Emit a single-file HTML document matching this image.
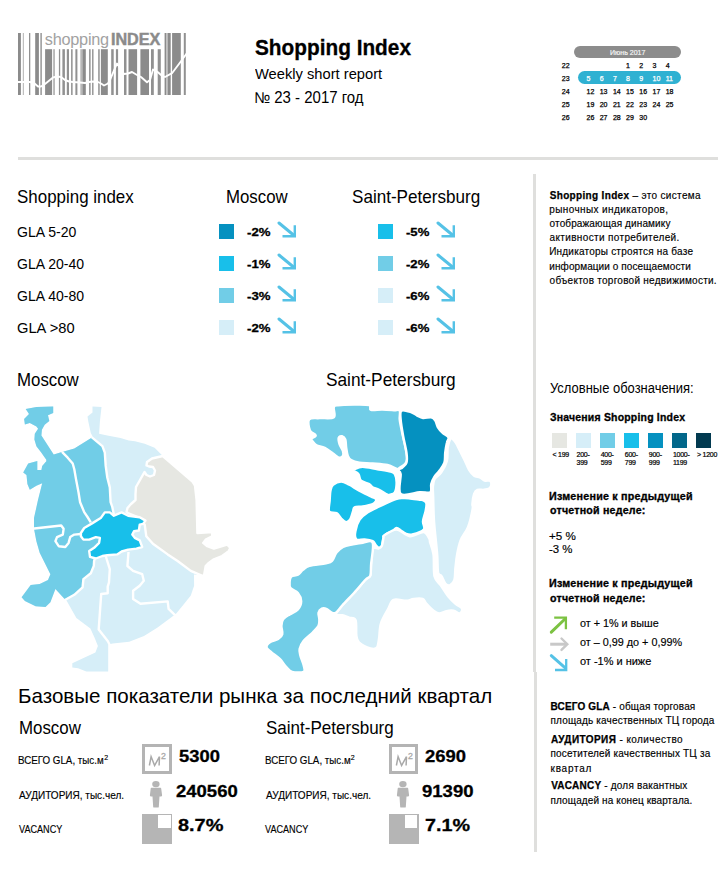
<!DOCTYPE html>
<html><head><meta charset="utf-8"><title>Shopping Index</title>
<style>
html,body{margin:0;padding:0;background:#fff;}
body{width:728px;height:881px;position:relative;overflow:hidden;font-family:"Liberation Sans",sans-serif;color:#000;}
.abs{position:absolute;}
.t{position:absolute;white-space:nowrap;line-height:1;}
.t b{-webkit-text-stroke:0.25px #000;}
.t sup{font-size:65%;vertical-align:0.45em;line-height:0;}
svg{display:block;}
</style></head><body>
<svg class="abs" style="left:0;top:0" width="200" height="100" viewBox="0 0 200 100">
<rect x="18.0" y="33" width="2.90" height="62" fill="#8b8b8b"/>
<rect x="22.8" y="33" width="1.10" height="62" fill="#b8b8b8"/>
<rect x="29.0" y="33" width="1.30" height="62" fill="#919191"/>
<rect x="35.2" y="33" width="3.70" height="62" fill="#8b8b8b"/>
<rect x="40.4" y="33" width="1.40" height="62" fill="#919191"/>
<rect x="164.6" y="33" width="1.60" height="62" fill="#8b8b8b"/>
<rect x="166.2" y="33" width="1.60" height="62" fill="#b8b8b8"/>
<rect x="167.8" y="33" width="2.90" height="62" fill="#8b8b8b"/>
<rect x="172.1" y="33" width="8.70" height="62" fill="#8b8b8b"/>
<rect x="183.8" y="33" width="2.00" height="62" fill="#919191"/>
<rect x="45.1" y="49.2" width="7.00" height="45.8" fill="#8b8b8b"/>
<rect x="53.1" y="49.2" width="1.90" height="45.8" fill="#b8b8b8"/>
<rect x="58.9" y="49.2" width="1.30" height="45.8" fill="#919191"/>
<rect x="62.4" y="49.2" width="2.50" height="45.8" fill="#919191"/>
<rect x="66.8" y="49.2" width="2.20" height="45.8" fill="#919191"/>
<rect x="71.1" y="49.2" width="1.50" height="45.8" fill="#919191"/>
<rect x="75.4" y="49.2" width="2.00" height="45.8" fill="#919191"/>
<rect x="80.3" y="49.2" width="2.10" height="45.8" fill="#b8b8b8"/>
<rect x="82.4" y="49.2" width="3.40" height="45.8" fill="#8b8b8b"/>
<rect x="89.1" y="49.2" width="1.50" height="45.8" fill="#919191"/>
<rect x="92.1" y="49.2" width="1.40" height="45.8" fill="#919191"/>
<rect x="98.2" y="49.2" width="1.50" height="45.8" fill="#919191"/>
<rect x="100.9" y="49.2" width="6.90" height="45.8" fill="#8b8b8b"/>
<rect x="111.2" y="49.2" width="2.50" height="45.8" fill="#919191"/>
<rect x="115.9" y="49.2" width="2.20" height="45.8" fill="#919191"/>
<rect x="124.0" y="49.2" width="2.50" height="45.8" fill="#919191"/>
<rect x="128.5" y="49.2" width="8.60" height="45.8" fill="#8b8b8b"/>
<rect x="140.4" y="49.2" width="8.60" height="45.8" fill="#8b8b8b"/>
<rect x="151.0" y="49.2" width="2.80" height="45.8" fill="#919191"/>
<rect x="157.7" y="49.2" width="3.10" height="45.8" fill="#919191"/>
<polyline points="17,82 30,82 34,83 38,86.5 41,86.5 45,84 53,77.5 57,76.5 61,77 65,80 69,81.5 73,82 80,82.5 85,83 89,82 93,81.5 98,82 101,83.5 104,85.5 108,83.5 110,80 113.7,71.2 117,63.5 120,68 124,74 128,73.5 132,72 137,75 141,77 147,82.3 150,80 153,69.5 156,71 158,72.2 161,75 165,77 172,73.2 181,61.2 187,53" fill="none" stroke="#fff" stroke-width="1.9" stroke-linejoin="round"/>
<text x="44.8" y="45.3" font-size="16.3" fill="#a2a2a2" font-family="Liberation Sans" letter-spacing="-0.25" style="opacity:0.999">shopping</text>
<text x="110.9" y="45.1" font-size="16.2" font-weight="bold" fill="#8b8b8b" stroke="#8b8b8b" stroke-width="0.45" font-family="Liberation Sans" style="opacity:0.999">INDEX</text>
</svg>
<div class="t" style="left:254.68px;top:38.00px;font-size:21.4px;font-weight:bold;-webkit-text-stroke:0.3px #000;transform:scaleX(0.9721);transform-origin:0 0;">Shopping Index</div>
<div class="t" style="left:254.93px;top:66.00px;font-size:15.3px;transform:scaleX(0.9607);transform-origin:0 0;">Weekly short report</div>
<div class="t" style="left:253.65px;top:90.00px;font-size:15.6px;transform:scaleX(0.9609);transform-origin:0 0;">№ 23 - 2017 год</div>
<div class="abs" style="left:574px;top:45.5px;width:107px;height:12.5px;border-radius:6.25px;background:#8c8c8c"></div>
<div class="t" style="left:610.00px;top:49.00px;font-size:7px;color:#f4f4f4;-webkit-text-stroke:0.2px #f4f4f4;">Июнь 2017</div>
<div class="abs" style="left:578px;top:71px;width:103px;height:13.3px;border-radius:6.5px;background:#2fb1d2"></div>
<div class="t" style="left:561.80px;top:62.00px;font-size:7px;color:#000;-webkit-text-stroke:0.25px #000;">22</div>
<div class="t" style="left:626.10px;top:62.00px;font-size:7px;color:#000;-webkit-text-stroke:0.25px #000;">1</div>
<div class="t" style="left:639.30px;top:62.00px;font-size:7px;color:#000;-webkit-text-stroke:0.25px #000;">2</div>
<div class="t" style="left:652.50px;top:62.00px;font-size:7px;color:#000;-webkit-text-stroke:0.25px #000;">3</div>
<div class="t" style="left:665.70px;top:62.00px;font-size:7px;color:#000;-webkit-text-stroke:0.25px #000;">4</div>
<div class="t" style="left:561.80px;top:75.00px;font-size:7px;color:#000;-webkit-text-stroke:0.25px #000;">23</div>
<div class="t" style="left:586.50px;top:75.00px;font-size:7px;color:#ffffff;-webkit-text-stroke:0.25px #fff;">5</div>
<div class="t" style="left:599.70px;top:75.00px;font-size:7px;color:#ffffff;-webkit-text-stroke:0.25px #fff;">6</div>
<div class="t" style="left:612.90px;top:75.00px;font-size:7px;color:#ffffff;-webkit-text-stroke:0.25px #fff;">7</div>
<div class="t" style="left:626.10px;top:75.00px;font-size:7px;color:#ffffff;-webkit-text-stroke:0.25px #fff;">8</div>
<div class="t" style="left:639.30px;top:75.00px;font-size:7px;color:#ffffff;-webkit-text-stroke:0.25px #fff;">9</div>
<div class="t" style="left:652.50px;top:75.00px;font-size:7px;color:#ffffff;-webkit-text-stroke:0.25px #fff;">10</div>
<div class="t" style="left:665.70px;top:75.00px;font-size:7px;color:#ffffff;-webkit-text-stroke:0.25px #fff;">11</div>
<div class="t" style="left:561.80px;top:88.00px;font-size:7px;color:#000;-webkit-text-stroke:0.25px #000;">24</div>
<div class="t" style="left:586.50px;top:88.00px;font-size:7px;color:#000;-webkit-text-stroke:0.25px #000;">12</div>
<div class="t" style="left:599.70px;top:88.00px;font-size:7px;color:#000;-webkit-text-stroke:0.25px #000;">13</div>
<div class="t" style="left:612.90px;top:88.00px;font-size:7px;color:#000;-webkit-text-stroke:0.25px #000;">14</div>
<div class="t" style="left:626.10px;top:88.00px;font-size:7px;color:#000;-webkit-text-stroke:0.25px #000;">15</div>
<div class="t" style="left:639.30px;top:88.00px;font-size:7px;color:#000;-webkit-text-stroke:0.25px #000;">16</div>
<div class="t" style="left:652.50px;top:88.00px;font-size:7px;color:#000;-webkit-text-stroke:0.25px #000;">17</div>
<div class="t" style="left:665.70px;top:88.00px;font-size:7px;color:#000;-webkit-text-stroke:0.25px #000;">18</div>
<div class="t" style="left:561.80px;top:101.00px;font-size:7px;color:#000;-webkit-text-stroke:0.25px #000;">25</div>
<div class="t" style="left:586.50px;top:101.00px;font-size:7px;color:#000;-webkit-text-stroke:0.25px #000;">19</div>
<div class="t" style="left:599.70px;top:101.00px;font-size:7px;color:#000;-webkit-text-stroke:0.25px #000;">20</div>
<div class="t" style="left:612.90px;top:101.00px;font-size:7px;color:#000;-webkit-text-stroke:0.25px #000;">21</div>
<div class="t" style="left:626.10px;top:101.00px;font-size:7px;color:#000;-webkit-text-stroke:0.25px #000;">22</div>
<div class="t" style="left:639.30px;top:101.00px;font-size:7px;color:#000;-webkit-text-stroke:0.25px #000;">23</div>
<div class="t" style="left:652.50px;top:101.00px;font-size:7px;color:#000;-webkit-text-stroke:0.25px #000;">24</div>
<div class="t" style="left:665.70px;top:101.00px;font-size:7px;color:#000;-webkit-text-stroke:0.25px #000;">25</div>
<div class="t" style="left:561.80px;top:114.00px;font-size:7px;color:#000;-webkit-text-stroke:0.25px #000;">26</div>
<div class="t" style="left:586.50px;top:114.00px;font-size:7px;color:#000;-webkit-text-stroke:0.25px #000;">26</div>
<div class="t" style="left:599.70px;top:114.00px;font-size:7px;color:#000;-webkit-text-stroke:0.25px #000;">27</div>
<div class="t" style="left:612.90px;top:114.00px;font-size:7px;color:#000;-webkit-text-stroke:0.25px #000;">28</div>
<div class="t" style="left:626.10px;top:114.00px;font-size:7px;color:#000;-webkit-text-stroke:0.25px #000;">29</div>
<div class="t" style="left:639.30px;top:114.00px;font-size:7px;color:#000;-webkit-text-stroke:0.25px #000;">30</div>
<div class="abs" style="left:18px;top:157px;width:700px;height:3px;background:#dfdfdd"></div>
<div class="abs" style="left:533px;top:174px;width:3px;height:498px;background:#dfdfdd"></div>
<div class="abs" style="left:534px;top:672px;width:3px;height:180px;background:#dfdfdd"></div>
<div class="t" style="left:17.34px;top:189.00px;font-size:17.7px;transform:scaleX(0.9573);transform-origin:0 0;">Shopping index</div>
<div class="t" style="left:225.85px;top:189.00px;font-size:17.7px;transform:scaleX(0.9505);transform-origin:0 0;">Moscow</div>
<div class="t" style="left:351.53px;top:189.00px;font-size:17.7px;transform:scaleX(0.9657);transform-origin:0 0;">Saint-Petersburg</div>
<div class="t" style="left:17.40px;top:225.00px;font-size:14.5px;transform:scaleX(0.9695);transform-origin:0 0;">GLA 5-20</div>
<div class="abs" style="left:219px;top:224px;width:15px;height:15px;background:#0591c0"></div>
<div class="t" style="left:247.47px;top:227.00px;font-size:11.2px;font-weight:bold;-webkit-text-stroke:0.3px #000;transform:scaleX(1.1766);transform-origin:0 0;">-2%</div>
<svg class="abs" style="left:277.3px;top:221px" width="21" height="18" viewBox="0 0 21 18"><line x1="2" y1="2" x2="16.5" y2="14" stroke="#55c2e6" stroke-width="3" stroke-linecap="round"/><polyline points="5.5,15.3 17.8,15.3 17.8,4.2" fill="none" stroke="#55c2e6" stroke-width="2.4"/></svg>
<div class="abs" style="left:378px;top:224px;width:15px;height:15px;background:#18bfea"></div>
<div class="t" style="left:405.98px;top:227.00px;font-size:11.2px;font-weight:bold;-webkit-text-stroke:0.3px #000;transform:scaleX(1.1714);transform-origin:0 0;">-5%</div>
<svg class="abs" style="left:436.3px;top:221px" width="21" height="18" viewBox="0 0 21 18"><line x1="2" y1="2" x2="16.5" y2="14" stroke="#55c2e6" stroke-width="3" stroke-linecap="round"/><polyline points="5.5,15.3 17.8,15.3 17.8,4.2" fill="none" stroke="#55c2e6" stroke-width="2.4"/></svg>
<div class="t" style="left:17.40px;top:257.00px;font-size:14.5px;transform:scaleX(0.9680);transform-origin:0 0;">GLA 20-40</div>
<div class="abs" style="left:219px;top:256px;width:15px;height:15px;background:#18bfea"></div>
<div class="t" style="left:247.47px;top:259.00px;font-size:11.2px;font-weight:bold;-webkit-text-stroke:0.3px #000;transform:scaleX(1.1766);transform-origin:0 0;">-1%</div>
<svg class="abs" style="left:277.3px;top:253px" width="21" height="18" viewBox="0 0 21 18"><line x1="2" y1="2" x2="16.5" y2="14" stroke="#55c2e6" stroke-width="3" stroke-linecap="round"/><polyline points="5.5,15.3 17.8,15.3 17.8,4.2" fill="none" stroke="#55c2e6" stroke-width="2.4"/></svg>
<div class="abs" style="left:378px;top:256px;width:15px;height:15px;background:#71cde7"></div>
<div class="t" style="left:405.98px;top:259.00px;font-size:11.2px;font-weight:bold;-webkit-text-stroke:0.3px #000;transform:scaleX(1.1714);transform-origin:0 0;">-2%</div>
<svg class="abs" style="left:436.3px;top:253px" width="21" height="18" viewBox="0 0 21 18"><line x1="2" y1="2" x2="16.5" y2="14" stroke="#55c2e6" stroke-width="3" stroke-linecap="round"/><polyline points="5.5,15.3 17.8,15.3 17.8,4.2" fill="none" stroke="#55c2e6" stroke-width="2.4"/></svg>
<div class="t" style="left:17.40px;top:289.00px;font-size:14.5px;transform:scaleX(0.9680);transform-origin:0 0;">GLA 40-80</div>
<div class="abs" style="left:219px;top:288px;width:15px;height:15px;background:#71cde7"></div>
<div class="t" style="left:247.47px;top:291.00px;font-size:11.2px;font-weight:bold;-webkit-text-stroke:0.3px #000;transform:scaleX(1.1766);transform-origin:0 0;">-3%</div>
<svg class="abs" style="left:277.3px;top:285px" width="21" height="18" viewBox="0 0 21 18"><line x1="2" y1="2" x2="16.5" y2="14" stroke="#55c2e6" stroke-width="3" stroke-linecap="round"/><polyline points="5.5,15.3 17.8,15.3 17.8,4.2" fill="none" stroke="#55c2e6" stroke-width="2.4"/></svg>
<div class="abs" style="left:378px;top:288px;width:15px;height:15px;background:#d6eef8"></div>
<div class="t" style="left:405.98px;top:291.00px;font-size:11.2px;font-weight:bold;-webkit-text-stroke:0.3px #000;transform:scaleX(1.1714);transform-origin:0 0;">-6%</div>
<svg class="abs" style="left:436.3px;top:285px" width="21" height="18" viewBox="0 0 21 18"><line x1="2" y1="2" x2="16.5" y2="14" stroke="#55c2e6" stroke-width="3" stroke-linecap="round"/><polyline points="5.5,15.3 17.8,15.3 17.8,4.2" fill="none" stroke="#55c2e6" stroke-width="2.4"/></svg>
<div class="t" style="left:17.37px;top:321.00px;font-size:14.5px;transform:scaleX(1.0125);transform-origin:0 0;">GLA &gt;80</div>
<div class="abs" style="left:219px;top:320px;width:15px;height:15px;background:#d6eef8"></div>
<div class="t" style="left:247.47px;top:323.00px;font-size:11.2px;font-weight:bold;-webkit-text-stroke:0.3px #000;transform:scaleX(1.1766);transform-origin:0 0;">-2%</div>
<svg class="abs" style="left:277.3px;top:317px" width="21" height="18" viewBox="0 0 21 18"><line x1="2" y1="2" x2="16.5" y2="14" stroke="#55c2e6" stroke-width="3" stroke-linecap="round"/><polyline points="5.5,15.3 17.8,15.3 17.8,4.2" fill="none" stroke="#55c2e6" stroke-width="2.4"/></svg>
<div class="abs" style="left:378px;top:320px;width:15px;height:15px;background:#d6eef8"></div>
<div class="t" style="left:405.98px;top:323.00px;font-size:11.2px;font-weight:bold;-webkit-text-stroke:0.3px #000;transform:scaleX(1.1714);transform-origin:0 0;">-6%</div>
<svg class="abs" style="left:436.3px;top:317px" width="21" height="18" viewBox="0 0 21 18"><line x1="2" y1="2" x2="16.5" y2="14" stroke="#55c2e6" stroke-width="3" stroke-linecap="round"/><polyline points="5.5,15.3 17.8,15.3 17.8,4.2" fill="none" stroke="#55c2e6" stroke-width="2.4"/></svg>
<div class="t" style="left:17.35px;top:372.00px;font-size:17.7px;transform:scaleX(0.9521);transform-origin:0 0;">Moscow</div>
<div class="t" style="left:326.42px;top:372.00px;font-size:17.7px;transform:scaleX(0.9764);transform-origin:0 0;">Saint-Petersburg</div>
<svg class="abs" style="left:0;top:395px" width="540" height="285" viewBox="0 395 540 285">
<g stroke-linejoin="round">
<polygon points="25.7,409.1 36.4,406.9 53.2,406.6 53.2,412.9 48.0,415.2 49.3,421.1 44.7,424.7 41.9,429.7 41.4,435.4 53.7,454.4 60.3,452.4 74.3,448.6 90.8,438.2 92.5,436.3 90.8,433.0 88.3,421.4 87.5,416.5 92.5,412.4 92.5,406.6 101.5,406.9 99.9,421.4 99.1,433.8 107.3,435.4 120.5,437.9 128.7,440.4 135.0,441.2 144.7,443.7 154.6,447.8 160.3,453.6 162.8,456.0 192.5,481.6 195.0,485.7 196.6,500.0 197.4,533.0 212.2,532.1 212.2,536.3 205.7,539.6 203.2,542.9 207.3,546.2 213.9,548.6 227.1,544.5 230.4,547.8 228.7,551.1 222.1,556.0 213.9,559.3 208.1,563.5 205.7,566.0 204.0,575.8 194.0,574.5 194.1,585.7 190.8,595.6 184.2,603.8 176.0,613.7 170.4,617.9 157.2,627.8 144.0,636.0 129.2,641.8 112.7,643.5 109.4,644.3 109.4,671.5 86.3,671.5 78.1,668.2 72.3,667.4 72.3,663.2 83.0,658.3 95.4,652.5 97.9,645.9 94.6,637.7 90.4,628.6 76.4,617.9 66.5,600.6 65.3,599.7 55.4,589.0 50.4,602.2 45.5,607.1 35.6,606.3 24.9,600.9 21.6,597.2 30.7,584.9 39.7,584.1 48.0,580.0 50.4,574.2 39.7,552.7 36.4,541.2 34.0,528.8 34.0,518.1 38.0,500.0 42.2,483.2 36.4,485.7 29.8,489.8 27.4,484.1 26.5,475.0 23.2,472.5 28.2,463.5 37.3,461.0 37.3,470.0 41.4,470.0 42.2,465.9 46.3,461.3 46.3,459.7 41.4,452.7 36.4,446.2 34.4,439.6 34.8,433.8 38.1,428.8 36.4,426.4 29.8,423.1 24.9,424.4 24.1,419.0 29.0,414.0" fill="#d6eef8"/>
<polygon points="25.7,409.1 36.4,406.9 53.2,406.6 53.2,412.9 48.0,415.2 49.3,421.1 44.7,424.7 41.9,429.7 41.4,435.4 53.7,454.4 60.3,452.4 74.3,448.6 90.8,438.2 92.0,437.5 102.4,446.2 104.8,452.7 105.7,465.9 107.3,477.5 109.8,487.4 110.6,502.2 112.2,506.6 113.9,514.8 110.0,535.0 95.0,560.0 94.1,561.0 93.8,565.9 90.8,573.3 83.4,579.1 82.6,587.4 74.3,594.8 65.3,599.7 55.4,589.0 50.4,602.2 45.5,607.1 35.6,606.3 24.9,600.9 21.6,597.2 30.7,584.9 39.7,584.1 48.0,580.0 50.4,574.2 39.7,552.7 36.4,541.2 34.0,528.8 34.0,518.1 38.0,500.0 42.2,483.2 36.4,485.7 29.8,489.8 27.4,484.1 26.5,475.0 23.2,472.5 28.2,463.5 37.3,461.0 37.3,470.0 41.4,470.0 42.2,465.9 46.3,461.3 46.3,459.7 41.4,452.7 36.4,446.2 34.4,439.6 34.8,433.8 38.1,428.8 36.4,426.4 29.8,423.1 24.9,424.4 24.1,419.0 29.0,414.0" fill="#71cde7"/>
<polygon points="162.8,456.0 192.5,481.6 195.0,485.7 196.6,500.0 197.4,533.0 212.2,532.1 212.2,536.3 205.7,539.6 203.2,542.9 207.3,546.2 213.9,548.6 227.1,544.5 230.4,547.8 228.7,551.1 222.1,556.0 213.9,559.3 208.1,563.5 205.7,566.0 204.0,575.8 202.4,575.8 190.8,570.9 177.6,561.0 167.7,554.4 152.9,543.7 146.3,536.3 144.7,524.7 140.0,518.0 128.0,513.0 126.5,512.0 127.5,508.0 131.0,504.0 135.5,500.0 135.5,494.0 136.0,487.0 140.0,480.0 144.5,472.0 146.5,475.0 150.0,476.5 154.0,475.0 155.0,470.5 153.0,467.0 149.0,466.5 146.5,465.5 147.0,462.0 152.0,458.5" fill="#e6e7e2" stroke="#fff" stroke-width="2.4"/>
<polygon points="80.9,533.0 84.2,528.0 92.5,523.1 100.7,518.1 104.8,512.4 109.8,512.4 113.9,515.7 121.6,512.4 128.2,515.7 139.7,517.3 145.5,520.6 143.0,523.9 139.7,524.7 138.9,530.5 134.0,531.3 132.3,534.6 134.8,537.9 139.7,540.4 142.2,547.0 136.4,548.6 128.2,549.6 121.6,551.5 117.2,554.4 107.3,555.2 102.4,556.0 95.8,558.5 90.0,556.9 89.2,551.1 94.1,547.8 99.1,542.9 99.9,537.9 95.8,537.1 89.2,539.6 83.4,539.6 80.9,536.3" fill="#18bfea" stroke="#fff" stroke-width="2.4"/>
<polyline points="62.0,451.9 67.7,457.7 72.7,463.5 74.3,469.2 76.0,479.1 78.5,492.3 80.1,502.2 84.2,512.1 87.5,517.0 90.8,522.3" fill="none" stroke="#fff" stroke-width="2.4"/>
<polyline points="91.6,437.1 102.4,446.2 104.8,452.7 105.7,465.9 107.3,477.5 109.8,487.4 110.6,502.2 112.2,506.6 113.9,514.8" fill="none" stroke="#fff" stroke-width="2.4"/>
<polyline points="32.0,528.8 61.2,525.5 63.6,528.8 62.8,534.6 57.0,537.1 55.4,541.2 58.7,546.2 65.3,547.0 68.6,542.9 70.2,537.1 74.3,534.6 80.9,534.0" fill="none" stroke="#fff" stroke-width="2.4"/>
<polyline points="95.0,558.0 94.1,561.0 93.8,565.9 90.8,573.3 83.4,579.1 82.6,587.4 74.3,594.8 65.3,599.7 64.0,600.5" fill="none" stroke="#fff" stroke-width="2.4"/>
<polyline points="105.7,556.0 109.8,569.2 109.0,582.4 107.7,586.6 107.7,593.2 101.2,594.0 98.7,629.4 107.7,641.0 109.4,644.3 109.4,673.0" fill="none" stroke="#fff" stroke-width="2.4"/>
<polyline points="128.5,552.0 127.4,566.0 133.1,570.9 142.2,574.2 143.8,580.8 139.7,585.7 133.1,590.7 133.1,598.9 140.5,603.8 167.7,601.4 168.6,608.8 173.5,613.7 176.0,616.0" fill="none" stroke="#fff" stroke-width="2.4"/>
<path d="M309.1,419.4 C310.8,417.3 315.7,418.5 319.8,418.1 C323.9,417.8 331.5,419.1 333.8,417.3 C336.1,415.5 333.1,409.4 333.8,407.4 C334.5,405.4 334.5,405.7 337.9,405.2 C341.3,404.7 349.2,404.6 354.4,404.6 C359.6,404.6 366.4,404.3 369.2,405.2 C371.9,406.1 368.7,409.1 370.9,409.8 C373.1,410.5 378.5,409.4 382.4,409.5 C386.2,409.6 391.1,410.0 394.0,410.2 C396.9,410.4 398.8,409.1 399.7,410.7 C400.6,412.3 399.3,416.0 399.7,419.7 C400.1,423.4 401.2,428.2 402.2,432.9 C403.2,437.6 404.7,443.3 405.5,447.7 C406.3,452.1 407.2,456.6 407.1,459.3 C407.0,462.1 406.1,462.7 404.7,464.2 C403.3,465.7 400.1,467.5 398.9,468.3 C397.6,469.1 399.1,469.8 397.2,469.2 C395.3,468.6 391.5,466.0 387.4,465.0 C383.3,464.0 377.2,463.8 372.5,463.4 C367.8,463.0 362.9,463.2 359.3,462.6 C355.7,462.1 353.0,461.2 351.1,460.1 C349.2,459.0 348.6,458.1 347.8,456.0 C347.0,453.9 346.6,450.4 346.2,447.7 C345.8,444.9 346.0,441.4 345.3,439.5 C344.6,437.6 343.1,436.5 342.0,436.2 C340.9,435.9 339.1,436.5 338.7,437.9 C338.3,439.3 338.9,442.2 339.6,444.4 C340.3,446.6 342.3,449.1 342.9,451.0 C343.4,452.9 343.6,454.9 342.9,456.0 C342.2,457.1 340.3,458.0 338.7,457.6 C337.1,457.2 335.3,455.1 333.0,453.5 C330.7,451.9 327.4,449.1 324.7,447.7 C321.9,446.3 318.6,446.4 316.5,445.3 C314.4,444.2 313.2,442.3 312.4,441.2 C311.6,440.1 310.9,439.7 311.5,438.7 C312.1,437.7 316.0,436.8 315.7,435.4 C315.4,434.0 311.0,433.1 309.9,430.4 C308.8,427.7 307.5,421.4 309.1,419.4Z" fill="#71cde7" stroke="#fff" stroke-width="2.4"/>
<path d="M401.5,410.7 C403.3,409.5 408.8,411.5 411.4,412.3 C414.0,413.1 415.3,414.6 417.2,415.6 C419.1,416.6 420.7,417.8 423.0,418.1 C425.3,418.4 429.1,416.9 431.2,417.3 C433.2,417.7 434.2,418.9 435.3,420.5 C436.4,422.1 436.6,425.0 437.8,427.1 C439.0,429.2 440.9,431.2 442.7,432.9 C444.5,434.6 447.8,435.9 448.5,437.5 C449.2,439.1 447.4,440.3 446.9,442.8 C446.3,445.3 445.6,449.4 445.2,452.7 C444.8,456.0 445.4,459.6 444.4,462.6 C443.4,465.6 441.0,468.5 439.4,470.8 C437.8,473.1 435.9,474.4 434.5,476.6 C433.1,478.8 431.9,481.4 431.2,484.0 C430.5,486.6 432.3,490.8 430.4,492.2 C428.5,493.6 424.6,491.9 419.7,492.2 C414.8,492.5 403.9,496.9 400.7,493.9 C397.5,490.9 401.1,478.1 400.7,474.1 C400.3,470.1 397.9,471.1 398.2,470.0 C398.5,468.9 401.0,468.7 402.4,467.5 C403.8,466.3 405.8,465.1 406.5,462.6 C407.2,460.1 407.1,457.1 406.5,452.7 C405.9,448.3 404.2,441.7 403.2,436.2 C402.2,430.7 401.0,423.9 400.7,419.7 C400.4,415.4 399.7,411.9 401.5,410.7Z" fill="#0591c0" stroke="#fff" stroke-width="2.4"/>
<path d="M451.8,438.2 C452.8,438.9 454.4,440.4 455.9,442.8 C457.4,445.2 459.4,449.7 460.9,452.7 C462.4,455.7 463.6,458.0 465.0,460.9 C466.4,463.8 467.6,467.5 469.1,470.0 C470.6,472.5 472.3,474.6 474.1,475.8 C475.9,477.0 478.0,476.6 479.8,477.4 C481.6,478.2 483.2,480.1 484.8,480.7 C486.4,481.2 488.6,480.1 489.7,480.7 C490.8,481.2 491.4,482.8 491.4,484.0 C491.4,485.2 490.9,487.1 489.7,488.1 C488.5,489.1 486.1,489.5 484.0,489.8 C481.9,490.1 479.0,489.1 477.4,489.8 C475.8,490.5 474.9,491.6 474.1,493.9 C473.3,496.2 472.6,501.3 472.4,503.8 C472.1,506.3 473.3,505.2 472.6,509.1 C471.9,513.0 470.0,522.1 468.0,527.2 C466.0,532.3 462.6,535.4 460.8,539.9 C459.0,544.4 458.0,549.6 457.1,554.5 C456.2,559.4 455.8,564.8 455.3,569.0 C454.9,573.2 455.3,577.2 454.4,579.9 C453.5,582.6 451.4,584.7 449.9,585.3 C448.4,585.9 446.7,585.0 445.3,583.5 C443.9,582.0 442.9,578.1 441.7,576.3 C440.5,574.5 438.9,576.2 438.1,572.6 C437.4,569.0 437.8,562.1 437.2,554.5 C436.6,546.9 435.1,533.8 434.5,527.2 C433.9,520.6 433.9,520.0 433.7,515.0 C433.5,510.0 433.3,501.8 433.2,497.2 C433.1,492.6 432.7,490.3 432.9,487.3 C433.1,484.3 433.1,481.6 434.5,479.1 C435.9,476.6 439.0,475.5 441.1,472.5 C443.2,469.5 445.8,465.0 446.9,460.9 C448.0,456.8 447.1,451.4 447.7,447.7 C448.2,444.0 449.5,440.3 450.2,438.7 C450.9,437.1 450.9,437.5 451.8,438.2Z" fill="#d6eef8" stroke="#fff" stroke-width="2.4"/>
<path d="M354.4,469.2 C355.9,468.5 358.8,466.7 362.6,466.7 C366.5,466.7 372.8,468.4 377.5,469.2 C382.2,470.0 387.8,470.8 390.7,471.6 C393.6,472.4 393.9,472.3 394.9,474.1 C395.9,475.9 396.6,479.4 396.6,482.4 C396.6,485.4 396.0,490.1 394.9,492.2 C393.8,494.2 391.2,494.3 390.0,494.7 C388.8,495.1 389.2,495.5 387.4,494.7 C385.6,493.9 381.6,491.0 379.1,489.8 C376.6,488.6 374.1,488.3 372.5,487.3 C370.9,486.3 371.1,485.1 369.2,484.0 C367.3,482.9 362.8,482.3 361.0,480.7 C359.2,479.1 359.7,475.8 358.5,474.1 C357.3,472.5 354.3,471.6 353.6,470.8 C352.9,470.0 352.9,469.9 354.4,469.2Z" fill="#18bfea" stroke="#fff" stroke-width="2.4"/>
<path d="M341.2,481.5 C343.9,481.5 346.4,483.3 349.4,484.8 C352.4,486.3 355.7,488.7 359.3,490.6 C362.9,492.5 368.1,495.0 370.9,496.4 C373.6,497.8 374.9,498.0 375.8,498.8 C376.7,499.6 376.5,500.1 376.0,501.0 C375.5,501.9 374.9,503.1 372.7,504.0 C370.5,504.9 365.9,505.9 362.9,506.5 C359.9,507.1 356.2,506.5 354.6,507.3 C353.0,508.1 353.7,509.5 353.0,511.4 C352.3,513.3 351.6,517.0 350.5,518.8 C349.4,520.6 347.9,522.1 346.4,522.1 C344.9,522.1 343.0,520.3 341.4,518.8 C339.8,517.3 338.6,514.3 336.5,513.1 C334.4,511.9 330.2,513.5 329.1,511.4 C328.0,509.3 329.5,504.0 329.7,500.5 C329.9,497.0 329.9,493.2 330.5,490.6 C331.1,488.0 331.2,486.3 333.0,484.8 C334.8,483.3 338.5,481.5 341.2,481.5Z" fill="#18bfea" stroke="#fff" stroke-width="2.4"/>
<path d="M356.3,539.4 C354.8,538.0 354.8,534.5 355.4,531.2 C355.9,527.9 357.5,522.9 359.6,519.7 C361.7,516.6 364.5,514.5 367.8,512.3 C371.1,510.1 374.6,508.7 379.3,506.5 C384.0,504.3 391.8,500.5 395.8,499.1 C399.8,497.7 401.0,498.1 403.2,498.0 C405.4,497.9 406.2,497.9 409.0,498.2 C411.8,498.5 417.5,499.4 419.7,499.7 C421.9,500.0 421.1,499.3 422.2,499.9 C423.3,500.5 425.8,501.3 426.3,503.2 C426.9,505.1 426.1,508.4 425.5,511.4 C424.9,514.4 423.3,518.3 423.0,521.3 C422.7,524.3 425.6,527.4 423.8,529.6 C422.0,531.8 415.3,533.8 412.3,534.5 C409.3,535.2 407.6,534.4 405.7,533.7 C403.8,533.0 402.3,531.4 400.8,530.4 C399.3,529.4 398.0,527.8 396.6,527.9 C395.2,528.0 394.1,530.2 392.5,531.2 C390.9,532.2 388.3,532.6 386.8,533.7 C385.3,534.8 384.3,535.8 383.5,537.8 C382.7,539.8 382.6,544.4 381.8,546.0 C381.0,547.6 379.6,548.0 378.5,547.7 C377.4,547.4 376.2,545.5 375.2,544.4 C374.2,543.3 374.5,541.9 372.7,541.1 C370.9,540.3 367.2,539.7 364.5,539.4 C361.8,539.1 357.8,540.8 356.3,539.4Z" fill="#18bfea" stroke="#fff" stroke-width="2.4"/>
<path d="M384.3,535.3 C386.5,533.9 392.4,529.5 396.6,529.6 C400.9,529.8 405.3,535.8 409.8,536.2 C414.3,536.6 420.5,531.5 423.8,532.0 C427.1,532.5 428.6,537.8 429.6,539.4 C430.6,541.0 429.2,539.3 429.9,541.8 C430.5,544.3 432.7,548.8 433.5,554.5 C434.3,560.2 433.3,571.2 434.5,576.3 C435.7,581.4 438.5,582.0 440.8,585.3 C443.1,588.6 445.7,593.2 448.1,596.2 C450.5,599.2 453.0,601.5 455.3,603.5 C457.6,605.5 460.6,606.6 461.7,608.0 C462.8,609.4 462.1,610.8 461.7,611.7 C461.2,612.6 460.4,613.7 459.0,613.5 C457.6,613.3 455.6,611.1 453.5,610.7 C451.4,610.3 448.7,610.6 446.3,611.1 C443.9,611.6 441.1,613.6 439.0,613.5 C436.9,613.4 435.6,612.4 433.5,610.7 C431.4,609.0 428.1,605.5 426.3,603.5 C424.5,601.5 424.7,599.7 422.6,598.9 C420.5,598.1 416.3,598.6 413.6,598.9 C410.9,599.2 409.6,600.6 406.3,600.8 C403.0,601.0 396.6,598.5 393.6,599.9 C390.6,601.2 390.3,605.0 388.2,608.9 C386.1,612.8 382.4,618.6 380.9,623.5 C379.4,628.4 379.7,634.1 379.1,638.0 C378.5,641.9 378.2,645.3 377.3,647.1 C376.4,648.9 375.3,648.9 373.6,648.9 C371.9,648.9 369.6,648.5 367.1,647.4 C364.7,646.3 360.7,644.3 358.9,642.4 C357.1,640.5 356.9,639.5 356.4,635.8 C355.8,632.1 356.8,623.2 355.6,620.2 C354.4,617.2 351.2,618.5 349.0,617.7 C346.8,616.9 344.6,615.8 342.4,615.2 C340.2,614.7 335.8,616.0 335.8,614.4 C335.8,612.8 339.4,608.9 342.4,605.3 C345.4,601.7 350.1,597.2 354.0,593.0 C357.9,588.8 362.8,582.7 365.5,579.8 C368.2,576.9 369.4,578.3 370.3,575.7 C371.2,573.1 370.7,568.7 371.1,564.2 C371.5,559.8 371.5,551.6 372.7,549.0 C373.9,546.4 377.0,549.0 378.5,548.5 C380.0,548.0 381.0,547.8 381.8,546.0 C382.6,544.2 383.1,539.6 383.5,537.8 C383.9,536.0 382.1,536.7 384.3,535.3Z" fill="#d6eef8" stroke="#fff" stroke-width="2.4"/>
<path d="M309.4,565.8 C313.2,564.7 322.1,564.1 325.9,563.3 C329.7,562.5 330.2,562.8 332.0,561.0 C333.8,559.2 334.6,555.0 336.5,552.6 C338.4,550.2 340.4,548.3 343.1,546.9 C345.9,545.5 349.7,545.1 353.0,544.4 C356.3,543.7 359.6,543.0 362.9,542.7 C366.2,542.4 371.3,539.1 372.7,542.7 C374.1,546.3 371.5,558.7 371.1,564.2 C370.7,569.7 371.2,573.1 370.3,575.7 C369.4,578.3 368.2,576.9 365.5,579.8 C362.8,582.7 357.9,588.8 354.0,593.0 C350.1,597.2 345.4,602.0 342.4,605.3 C339.4,608.6 337.6,611.5 335.8,612.7 C334.0,613.9 333.2,613.3 331.7,612.7 C330.2,612.1 328.4,609.8 326.8,609.1 C325.2,608.4 323.2,608.0 321.8,608.6 C320.4,609.2 318.9,610.9 318.5,612.7 C318.1,614.5 319.3,617.1 319.3,619.3 C319.3,621.5 319.6,623.7 318.5,625.9 C317.4,628.1 315.2,630.0 312.7,632.5 C310.2,635.0 305.9,638.0 303.7,640.8 C301.5,643.5 300.2,646.5 299.6,649.0 C299.1,651.5 299.7,652.9 300.4,655.6 C301.1,658.4 303.1,662.8 303.7,665.5 C304.2,668.2 305.6,670.8 303.7,671.8 C301.8,672.8 295.0,672.6 292.1,671.8 C289.2,671.0 288.4,669.2 286.4,667.1 C284.3,665.0 282.3,661.4 279.8,658.9 C277.3,656.4 273.7,654.2 271.5,652.3 C269.3,650.4 266.9,649.0 266.6,647.4 C266.3,645.8 268.0,643.8 269.9,642.4 C271.8,641.0 276.0,640.5 278.1,639.1 C280.2,637.7 281.8,636.4 282.3,634.2 C282.9,632.0 281.3,628.4 281.4,625.9 C281.5,623.4 281.7,621.2 283.1,619.3 C284.5,617.4 287.2,616.0 289.7,614.4 C292.2,612.8 296.0,611.6 297.9,609.4 C299.8,607.2 301.2,603.9 301.2,601.2 C301.2,598.5 299.7,595.2 297.9,593.0 C296.1,590.8 291.9,589.9 290.5,588.0 C289.1,586.1 289.6,583.3 289.7,581.4 C289.8,579.5 289.9,577.6 291.3,576.5 C292.7,575.4 296.0,575.9 297.9,574.8 C299.8,573.7 301.0,571.4 302.9,569.9 C304.8,568.4 305.6,566.9 309.4,565.8Z" fill="#71cde7" stroke="#fff" stroke-width="2.4"/>
</g></svg>
<div class="t" style="left:18.46px;top:685.00px;font-size:21px;transform:scaleX(0.9790);transform-origin:0 0;">Базовые показатели рынка за последний квартал</div>
<div class="t" style="left:18.55px;top:720.00px;font-size:17.7px;transform:scaleX(0.9537);transform-origin:0 0;">Moscow</div>
<div class="t" style="left:18.42px;top:755.00px;font-size:11px;-webkit-text-stroke:0.15px #000;transform:scaleX(0.8885);transform-origin:0 0;">ВСЕГО GLA, тыс.м</div>
<div class="t" style="left:104.20px;top:754.00px;font-size:7px;-webkit-text-stroke:0.15px #000;">2</div>
<div class="t" style="left:19.00px;top:790.00px;font-size:11px;-webkit-text-stroke:0.15px #000;transform:scaleX(0.9113);transform-origin:0 0;">АУДИТОРИЯ, тыс.чел.</div>
<div class="t" style="left:18.95px;top:824.00px;font-size:11px;-webkit-text-stroke:0.15px #000;transform:scaleX(0.8275);transform-origin:0 0;">VACANCY</div>
<div class="abs" style="left:142px;top:744px;width:23.8px;height:23.8px;border:3.1px solid #b4b4b4"></div>
<svg class="abs" style="left:140px;top:745px" width="34" height="28" viewBox="140 745 34 28"><polyline points="149.4,765.5 151.1,756.6 154.6,765.5 159.5,756.6 159.1,765.5" fill="none" stroke="#a9a9a9" stroke-width="1.5" stroke-linejoin="miter"/><text x="160.9" y="758.5" font-size="8.8" fill="#a9a9a9" stroke="#a9a9a9" stroke-width="0.3" font-family="Liberation Sans">2</text></svg>
<svg class="abs" style="left:148px;top:779px" width="16" height="30" viewBox="0 0 16 30"><ellipse cx="7.9" cy="5.1" rx="3.7" ry="3.2" fill="#b5b5b5"/><path d="M3.3,8.8 L12.6,8.8 Q13.1,8.8 13.2,9.4 L14.1,16.3 Q14.2,17.4 13.2,17.4 L11.5,17.4 L10.8,28 Q10.7,28.6 10,28.6 L6,28.6 Q5.3,28.6 5.2,28 L4.5,17.4 L2.8,17.4 Q1.8,17.4 1.9,16.3 L2.7,9.4 Q2.8,8.8 3.3,8.8 Z" fill="#b5b5b5"/></svg>
<div class="abs" style="left:142px;top:814.1px;width:30px;height:29.7px;background:#b5b5b5"></div>
<div class="abs" style="left:158px;top:815.3px;width:12.6px;height:12.3px;background:#fff"></div>
<div class="t" style="left:178.65px;top:748.00px;font-size:17px;font-weight:bold;-webkit-text-stroke:0.3px #000;transform:scaleX(1.0809);transform-origin:0 0;">5300</div>
<div class="t" style="left:175.85px;top:783.00px;font-size:17px;font-weight:bold;-webkit-text-stroke:0.3px #000;transform:scaleX(1.0881);transform-origin:0 0;">240560</div>
<div class="t" style="left:178.30px;top:817.00px;font-size:17px;font-weight:bold;-webkit-text-stroke:0.3px #000;transform:scaleX(1.1712);transform-origin:0 0;">8.7%</div>
<div class="t" style="left:265.63px;top:720.00px;font-size:17.7px;transform:scaleX(0.9626);transform-origin:0 0;">Saint-Petersburg</div>
<div class="t" style="left:264.92px;top:755.00px;font-size:11px;-webkit-text-stroke:0.15px #000;transform:scaleX(0.8885);transform-origin:0 0;">ВСЕГО GLA, тыс.м</div>
<div class="t" style="left:350.70px;top:754.00px;font-size:7px;-webkit-text-stroke:0.15px #000;">2</div>
<div class="t" style="left:265.50px;top:790.00px;font-size:11px;-webkit-text-stroke:0.15px #000;transform:scaleX(0.9113);transform-origin:0 0;">АУДИТОРИЯ, тыс.чел.</div>
<div class="t" style="left:265.45px;top:824.00px;font-size:11px;-webkit-text-stroke:0.15px #000;transform:scaleX(0.8275);transform-origin:0 0;">VACANCY</div>
<div class="abs" style="left:388.5px;top:744px;width:23.8px;height:23.8px;border:3.1px solid #b4b4b4"></div>
<svg class="abs" style="left:386.5px;top:745px" width="34" height="28" viewBox="140 745 34 28"><polyline points="149.4,765.5 151.1,756.6 154.6,765.5 159.5,756.6 159.1,765.5" fill="none" stroke="#a9a9a9" stroke-width="1.5" stroke-linejoin="miter"/><text x="160.9" y="758.5" font-size="8.8" fill="#a9a9a9" stroke="#a9a9a9" stroke-width="0.3" font-family="Liberation Sans">2</text></svg>
<svg class="abs" style="left:394.5px;top:779px" width="16" height="30" viewBox="0 0 16 30"><ellipse cx="7.9" cy="5.1" rx="3.7" ry="3.2" fill="#b5b5b5"/><path d="M3.3,8.8 L12.6,8.8 Q13.1,8.8 13.2,9.4 L14.1,16.3 Q14.2,17.4 13.2,17.4 L11.5,17.4 L10.8,28 Q10.7,28.6 10,28.6 L6,28.6 Q5.3,28.6 5.2,28 L4.5,17.4 L2.8,17.4 Q1.8,17.4 1.9,16.3 L2.7,9.4 Q2.8,8.8 3.3,8.8 Z" fill="#b5b5b5"/></svg>
<div class="abs" style="left:388.5px;top:814.1px;width:30px;height:29.7px;background:#b5b5b5"></div>
<div class="abs" style="left:404.5px;top:815.3px;width:12.6px;height:12.3px;background:#fff"></div>
<div class="t" style="left:425.16px;top:748.00px;font-size:17px;font-weight:bold;-webkit-text-stroke:0.3px #000;transform:scaleX(1.0834);transform-origin:0 0;">2690</div>
<div class="t" style="left:421.85px;top:783.00px;font-size:17px;font-weight:bold;-webkit-text-stroke:0.3px #000;transform:scaleX(1.0895);transform-origin:0 0;">91390</div>
<div class="t" style="left:425.01px;top:817.00px;font-size:17px;font-weight:bold;-webkit-text-stroke:0.3px #000;transform:scaleX(1.1605);transform-origin:0 0;">7.1%</div>
<div class="t" style="left:549.70px;top:191.00px;font-size:10px;-webkit-text-stroke:0.15px #000;letter-spacing:0.335px;"><b>Shopping Index</b> – это система</div>
<div class="t" style="left:549.35px;top:205.00px;font-size:10px;-webkit-text-stroke:0.15px #000;letter-spacing:0.385px;">рыночных индикаторов,</div>
<div class="t" style="left:549.60px;top:219.00px;font-size:10px;-webkit-text-stroke:0.15px #000;letter-spacing:0.12px;">отображающая динамику</div>
<div class="t" style="left:549.60px;top:233.00px;font-size:10px;-webkit-text-stroke:0.15px #000;letter-spacing:0.35px;">активности потребителей.</div>
<div class="t" style="left:549.20px;top:247.00px;font-size:10px;-webkit-text-stroke:0.15px #000;letter-spacing:0.212px;">Индикаторы строятся на базе</div>
<div class="t" style="left:549.30px;top:262.00px;font-size:10px;-webkit-text-stroke:0.15px #000;letter-spacing:0.088px;">информации о посещаемости</div>
<div class="t" style="left:549.60px;top:276.00px;font-size:10px;-webkit-text-stroke:0.15px #000;letter-spacing:0.257px;">объектов торговой недвижимости.</div>
<div class="t" style="left:549.61px;top:382.00px;font-size:13.8px;transform:scaleX(0.9395);transform-origin:0 0;">Условные обозначения:</div>
<div class="t" style="left:549.74px;top:413.00px;font-size:10.3px;font-weight:bold;-webkit-text-stroke:0.3px #000;letter-spacing:0.2px;transform:scaleX(1.0160);transform-origin:0 0;">Значения Shopping Index</div>
<div class="abs" style="left:552.00px;top:433px;width:15px;height:15px;background:#e6e7e2"></div>
<div class="t" style="left:552.50px;top:451.00px;font-size:7px;letter-spacing:-0.25px;color:#000;-webkit-text-stroke:0.2px #000;">&lt; 199</div>
<div class="abs" style="left:576.08px;top:433px;width:15px;height:15px;background:#d6eef8"></div>
<div class="t" style="left:576.58px;top:451.00px;font-size:7px;letter-spacing:-0.25px;color:#000;-webkit-text-stroke:0.2px #000;">200-</div>
<div class="t" style="left:576.58px;top:459.00px;font-size:7px;letter-spacing:-0.25px;color:#000;-webkit-text-stroke:0.2px #000;">399</div>
<div class="abs" style="left:600.16px;top:433px;width:15px;height:15px;background:#71cde7"></div>
<div class="t" style="left:600.66px;top:451.00px;font-size:7px;letter-spacing:-0.25px;color:#000;-webkit-text-stroke:0.2px #000;">400-</div>
<div class="t" style="left:600.66px;top:459.00px;font-size:7px;letter-spacing:-0.25px;color:#000;-webkit-text-stroke:0.2px #000;">599</div>
<div class="abs" style="left:624.24px;top:433px;width:15px;height:15px;background:#18bfea"></div>
<div class="t" style="left:624.74px;top:451.00px;font-size:7px;letter-spacing:-0.25px;color:#000;-webkit-text-stroke:0.2px #000;">600-</div>
<div class="t" style="left:624.74px;top:459.00px;font-size:7px;letter-spacing:-0.25px;color:#000;-webkit-text-stroke:0.2px #000;">799</div>
<div class="abs" style="left:648.32px;top:433px;width:15px;height:15px;background:#0591c0"></div>
<div class="t" style="left:648.82px;top:451.00px;font-size:7px;letter-spacing:-0.25px;color:#000;-webkit-text-stroke:0.2px #000;">900-</div>
<div class="t" style="left:648.82px;top:459.00px;font-size:7px;letter-spacing:-0.25px;color:#000;-webkit-text-stroke:0.2px #000;">999</div>
<div class="abs" style="left:672.40px;top:433px;width:15px;height:15px;background:#02678a"></div>
<div class="t" style="left:672.90px;top:451.00px;font-size:7px;letter-spacing:-0.25px;color:#000;-webkit-text-stroke:0.2px #000;">1000-</div>
<div class="t" style="left:672.90px;top:459.00px;font-size:7px;letter-spacing:-0.25px;color:#000;-webkit-text-stroke:0.2px #000;">1199</div>
<div class="abs" style="left:696.48px;top:433px;width:15px;height:15px;background:#023a50"></div>
<div class="t" style="left:696.98px;top:451.00px;font-size:7px;letter-spacing:-0.25px;color:#000;-webkit-text-stroke:0.2px #000;">&gt; 1200</div>
<div class="t" style="left:549.30px;top:492.00px;font-size:10px;font-weight:bold;-webkit-text-stroke:0.3px #000;letter-spacing:0.2px;transform:scaleX(1.0733);transform-origin:0 0;">Изменение к предыдущей</div>
<div class="t" style="left:549.57px;top:506.00px;font-size:10px;font-weight:bold;-webkit-text-stroke:0.3px #000;letter-spacing:0.2px;transform:scaleX(1.0646);transform-origin:0 0;">отчетной неделе:</div>
<div class="t" style="left:549.42px;top:532.00px;font-size:10px;-webkit-text-stroke:0.15px #000;transform:scaleX(1.1640);transform-origin:0 0;">+5 %</div>
<div class="t" style="left:549.49px;top:545.00px;font-size:10px;-webkit-text-stroke:0.15px #000;transform:scaleX(1.1392);transform-origin:0 0;">-3 %</div>
<div class="t" style="left:549.30px;top:579.00px;font-size:10px;font-weight:bold;-webkit-text-stroke:0.3px #000;letter-spacing:0.2px;transform:scaleX(1.0733);transform-origin:0 0;">Изменение к предыдущей</div>
<div class="t" style="left:549.57px;top:594.00px;font-size:10px;font-weight:bold;-webkit-text-stroke:0.3px #000;letter-spacing:0.2px;transform:scaleX(1.0646);transform-origin:0 0;">отчетной неделе:</div>
<svg class="abs" style="left:548px;top:613px" width="24" height="62" viewBox="0 0 24 62"><line x1="3.3" y1="19.1" x2="17.5" y2="5.5" stroke="#7cc242" stroke-width="3" stroke-linecap="round"/><polyline points="6.2,4.6 17.9,4.6 17.9,16.2" fill="none" stroke="#7cc242" stroke-width="2.3"/><line x1="2.2" y1="31.2" x2="18.5" y2="31.2" stroke="#c8c8c8" stroke-width="3"/><polyline points="13.5,25.5 19.3,31.2 13.5,36.9" fill="none" stroke="#c8c8c8" stroke-width="2.4" stroke-linecap="round"/><line x1="3.3" y1="42.7" x2="17.5" y2="55.2" stroke="#55c2e6" stroke-width="3" stroke-linecap="round"/><polyline points="7,57 18.2,57 18.2,46" fill="none" stroke="#55c2e6" stroke-width="2.3"/></svg>
<div class="t" style="left:580.47px;top:618.00px;font-size:10.5px;-webkit-text-stroke:0.15px #000;transform:scaleX(1.0270);transform-origin:0 0;">от + 1% и выше</div>
<div class="t" style="left:580.47px;top:637.00px;font-size:10.5px;-webkit-text-stroke:0.15px #000;transform:scaleX(1.0296);transform-origin:0 0;">от – 0,99 до + 0,99%</div>
<div class="t" style="left:580.46px;top:656.00px;font-size:10.5px;-webkit-text-stroke:0.15px #000;transform:scaleX(1.0452);transform-origin:0 0;">от -1% и ниже</div>
<div class="t" style="left:550.55px;top:702.00px;font-size:10px;-webkit-text-stroke:0.15px #000;letter-spacing:0.155px;"><b>ВСЕГО GLA</b> - общая торговая</div>
<div class="t" style="left:550.50px;top:716.00px;font-size:10px;-webkit-text-stroke:0.15px #000;letter-spacing:0.164px;">площадь качественных ТЦ города</div>
<div class="t" style="left:550.95px;top:735.00px;font-size:10px;-webkit-text-stroke:0.15px #000;letter-spacing:0.421px;"><b>АУДИТОРИЯ</b> - количество</div>
<div class="t" style="left:550.50px;top:749.00px;font-size:10px;-webkit-text-stroke:0.15px #000;letter-spacing:0.186px;">посетителей качественных ТЦ за</div>
<div class="t" style="left:550.55px;top:764.00px;font-size:10px;-webkit-text-stroke:0.15px #000;letter-spacing:0.75px;">квартал</div>
<div class="t" style="left:551.15px;top:781.00px;font-size:10px;-webkit-text-stroke:0.15px #000;letter-spacing:0.202px;"><b>VACANCY</b> - доля вакантных</div>
<div class="t" style="left:550.50px;top:796.00px;font-size:10px;-webkit-text-stroke:0.15px #000;letter-spacing:0.121px;">площадей на конец квартала.</div>
</body></html>
